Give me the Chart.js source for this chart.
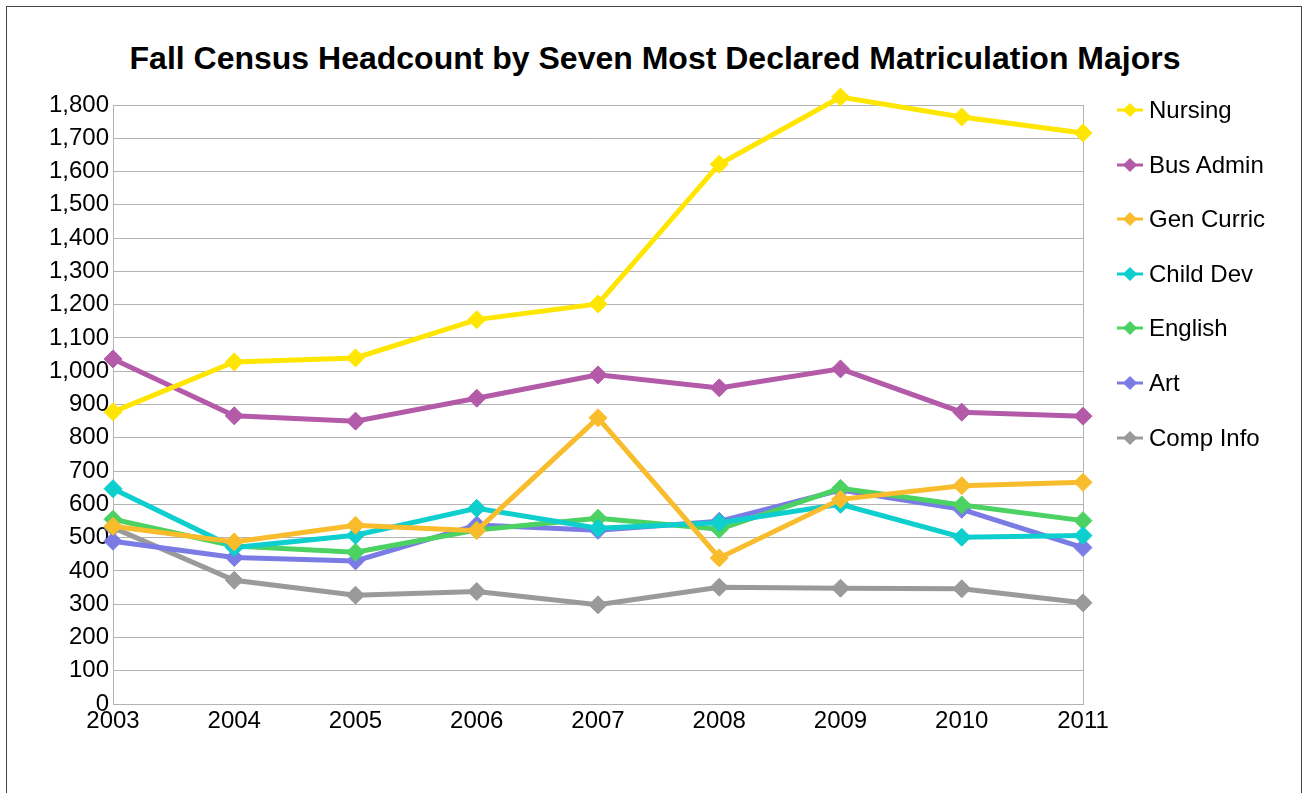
<!DOCTYPE html>
<html>
<head>
<meta charset="utf-8">
<script src="https://cdn.jsdelivr.net/npm/chart.js@4.4.1/dist/chart.umd.min.js"></script>
<style>
  body { margin: 0; background: #fff; font-family: "Liberation Sans", Arial, sans-serif; }
  #wrap { position: relative; width: 1304px; height: 793px; overflow: hidden; }
  #frame { position: absolute; left: 6px; top: 6px; width: 1294px; height: 830px; border: 1px solid #444; }
  #title { position: absolute; left: 0; width: 1310px; top: 39px; line-height: 38px; text-align: center;
           font-weight: bold; font-size: 32px; color: #000; }
  canvas { position: absolute; left: 0; top: 0; }
  #legend { position: absolute; left: 1117px; top: 82.7px; }
  .item { height: 54.6px; display: flex; align-items: center; font-size: 24px; color: #000; }
  .item svg { margin-right: 6px; }
</style>
</head>
<body>
<div id="wrap">
  <div id="frame"></div>
  <div id="title">Fall Census Headcount by Seven Most Declared Matriculation Majors</div>
  <canvas id="chart" width="1304" height="793"></canvas>
  <div id="legend"></div>
</div>
<script>
// categories
const years = ['2003', '2004', '2005', '2006', '2007', '2008', '2009', '2010', '2011'];

// series values
const nursing   = [878, 1028, 1040, 1155, 1202, 1622, 1824, 1764, 1716];
const busAdmin  = [1037, 866, 850, 919, 989, 950, 1007, 877, 865];
const genCurric = [534, 487, 537, 521, 860, 439, 615, 656, 666];
const childDev  = [647, 470, 507, 588, 528, 545, 600, 501, 506];
const english   = [555, 475, 456, 523, 558, 525, 648, 598, 551];
const art       = [489, 440, 430, 538, 522, 549, 643, 585, 470];
const compInfo  = [530, 372, 327, 338, 298, 351, 348, 346, 304];

const seriesNames = ['Nursing', 'Bus Admin', 'Gen Curric', 'Child Dev', 'English', 'Art', 'Comp Info'];
const seriesData = [nursing, busAdmin, genCurric, childDev, english, art, compInfo];
const seriesColors = ['#ffe600', '#b35aa8', '#f8bc2c', '#0ecece', '#4cd262', '#7b7be6', '#9a9a9a'];

const FONT = '"Liberation Sans", Arial, sans-serif';

const datasets = seriesNames.map(function (name, i) {
    return {
        label: name,
        data: seriesData[i],
        borderColor: seriesColors[i],
        backgroundColor: seriesColors[i],
        pointBackgroundColor: seriesColors[i],
        pointBorderColor: seriesColors[i],
        borderWidth: 5,
        pointStyle: 'rectRot',
        pointRadius: 9,
        pointBorderWidth: 1,
        tension: 0,
        clip: false
    };
});

new Chart(document.getElementById('chart').getContext('2d'), {
    type: 'line',
    data: { labels: years, datasets: datasets },
    options: {
        responsive: false,
        animation: false,
        layout: { padding: { left: 0, right: 221, top: 105, bottom: 57 } },
        plugins: {
            legend: { display: false },
            title: { display: false },
            tooltip: { enabled: false }
        },
        scales: {
            x: {
                grid: {
                    drawTicks: false,
                    color: function (ctx) { return ctx.index === years.length - 1 ? '#b3b3b3' : 'rgba(0,0,0,0)'; }
                },
                border: { display: true, color: '#b3b3b3', width: 1 },
                ticks: { color: '#000', font: { family: FONT, size: 24 }, padding: 3, maxRotation: 0, autoSkip: false },
                afterFit: function (scale) { scale.height = 32; }
            },
            y: {
                min: 0,
                max: 1800,
                grid: { drawTicks: false, color: '#b3b3b3' },
                border: { display: true, color: '#b3b3b3', width: 1 },
                ticks: {
                    stepSize: 100,
                    color: '#000',
                    font: { family: FONT, size: 24 },
                    padding: 4,
                    callback: function (v) { return Number(v).toLocaleString('en-US'); }
                },
                afterFit: function (scale) { scale.width = 113; }
            }
        }
    }
});

// legend on the right
const legend = document.getElementById('legend');
seriesNames.forEach(function (name, i) {
    const c = seriesColors[i];
    const div = document.createElement('div');
    div.className = 'item';
    div.innerHTML =
        '<svg width="26" height="16"><line x1="0" y1="8" x2="26" y2="8" stroke="' + c + '" stroke-width="3"/>' +
        '<rect x="8" y="3" width="10" height="10" fill="' + c + '" transform="rotate(45 13 8)"/></svg>' +
        '<span>' + name + '</span>';
    legend.appendChild(div);
});
</script>
</body>
</html>
